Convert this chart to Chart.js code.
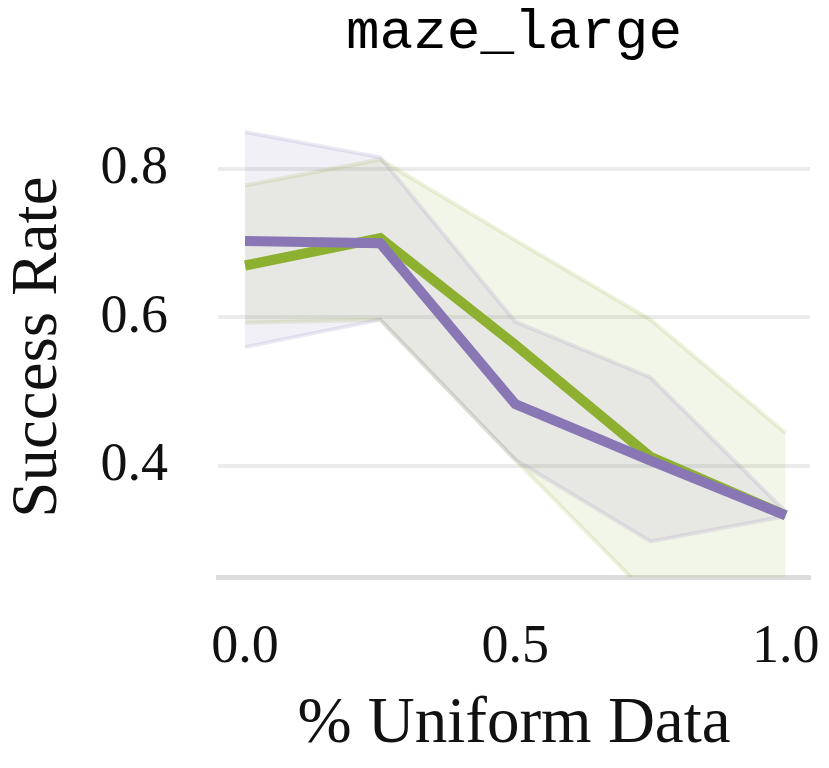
<!DOCTYPE html>
<html>
<head>
<meta charset="utf-8">
<script src="https://cdn.jsdelivr.net/npm/chart.js@4.4.1/dist/chart.umd.min.js"></script>
<style>
  html,body{margin:0;padding:0;background:#fff}
  #wrap{width:829px;height:768px}
</style>
</head>
<body>
<div id="wrap"><canvas id="c" width="829" height="768"></canvas></div>
<script>
// fraction of uniform data
const xs = [0, 0.25, 0.5, 0.75, 1.0]

const greenMean  = [0.670, 0.707, 0.563, 0.412, 0.333]
const greenUpper = [0.778, 0.813, 0.704, 0.597, 0.444]
const greenLower = [0.593, 0.597, 0.408, 0.223, 0.180]

const purpleMean  = [0.703, 0.700, 0.483, 0.407, 0.333]
const purpleUpper = [0.850, 0.816, 0.594, 0.519, 0.338]
const purpleLower = [0.560, 0.597, 0.408, 0.298, 0.332]

const yTicks = [0.4, 0.6, 0.8]
const xTicks = [0.0, 0.5, 1.0]

const GREEN = 'rgb(141,176,48)'
const PURPLE = 'rgb(136,119,180)'

const pts = arr => arr.map((v,i)=>({x:xs[i], y:v}))

function meanLine(data, color){
  return {data:pts(data), borderColor:color, borderWidth:10, pointRadius:0,
    fill:false, borderJoinStyle:'miter', borderCapStyle:'butt', tension:0}
}
function bandEdge(data, rgb, fill){
  return {data:pts(data), borderColor:`rgba(${rgb},0.16)`, borderWidth:4, pointRadius:0,
    fill:fill, backgroundColor:`rgba(${rgb},0.11)`, tension:0, borderJoinStyle:'miter'}
}

Chart.defaults.font.family = '"Liberation Serif", serif'
Chart.defaults.color = '#111'

new Chart(document.getElementById('c').getContext('2d'), {
  type:'line',
  data:{
    datasets:[
      meanLine(purpleMean, PURPLE),
      meanLine(greenMean, GREEN),
      bandEdge(purpleUpper, '136,119,180', false),
      bandEdge(purpleLower, '136,119,180', '-1'),
      bandEdge(greenUpper, '141,176,48', false),
      bandEdge(greenLower, '141,176,48', '-1')
    ]
  },
  options:{
    responsive:false,
    animation:false,
    devicePixelRatio:1,
    layout:{padding:{left:0,right:19,top:0,bottom:0}},
    plugins:{
      legend:{display:false},
      tooltip:{enabled:false},
      title:{display:true, text:'maze_large', fullSize:false, color:'#000',
        font:{family:'"Liberation Mono", monospace', size:56, weight:'normal'},
        padding:{top:0, bottom:50}}
    },
    scales:{
      x:{
        type:'linear', min:-0.05, max:1.045,
        afterBuildTicks: s => { s.ticks = xTicks.map(v=>({value:v})) },
        afterFit: s => { s.height = 191; s.paddingLeft = 0; s.paddingRight = 0 },
        grid:{display:false, drawTicks:false},
        border:{display:true, color:'#dcdcdc', width:5},
        ticks:{padding:38, font:{size:54}, color:'#111', callback:v=>v.toFixed(1)},
        title:{display:true, text:'% Uniform Data', font:{size:65}, color:'#111', padding:{top:0,bottom:4}}
      },
      y:{
        min:0.25, max:0.87,
        afterBuildTicks: s => { s.ticks = yTicks.map(v=>({value:v})) },
        afterFit: s => { s.width = 218; s.paddingTop = 0; s.paddingBottom = 0 },
        grid:{color:'#ebebeb', lineWidth:4, drawTicks:false},
        border:{display:false},
        ticks:{padding:50, font:{size:54}, color:'#111', callback:v=>v.toFixed(1)},
        title:{display:true, text:'Success Rate', font:{size:65}, color:'#111', padding:{top:0,bottom:0}}
      }
    }
  }
})
</script>
</body>
</html>
